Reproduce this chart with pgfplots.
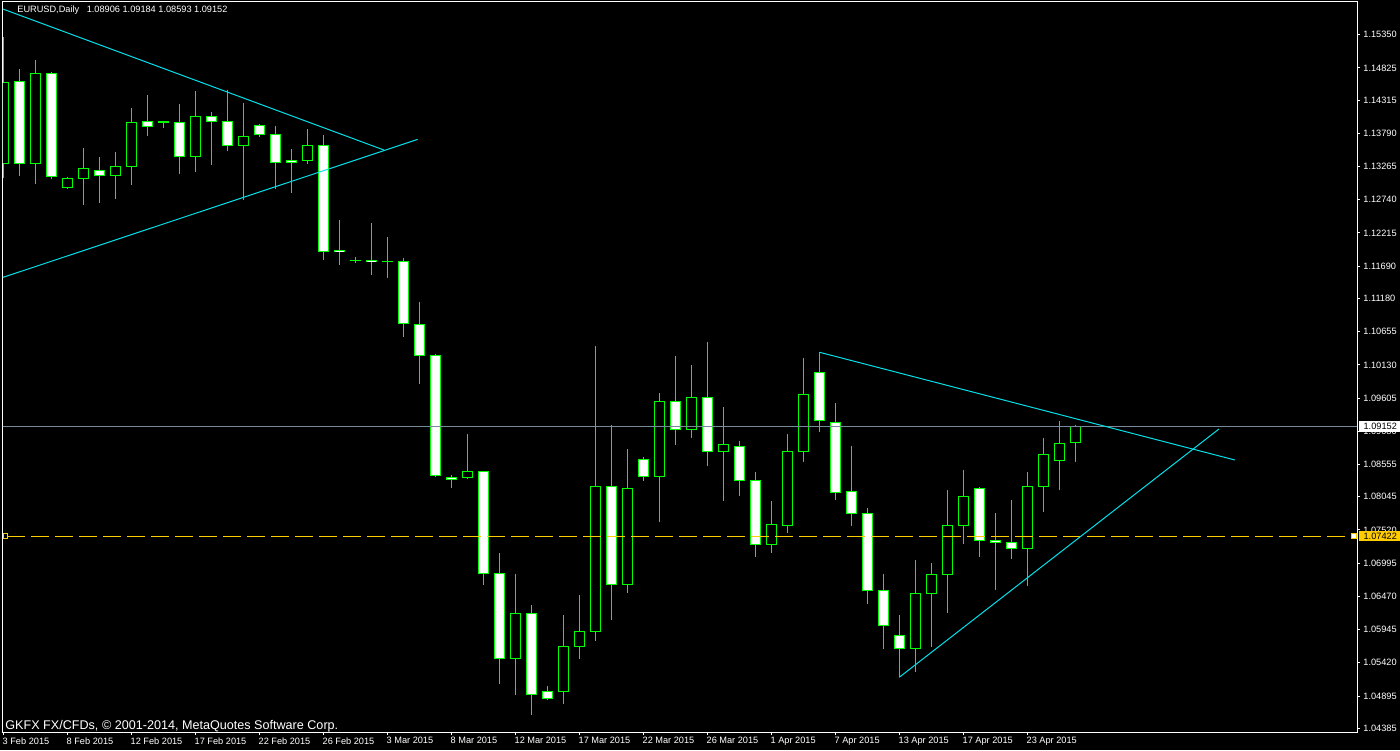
\documentclass[border=0pt]{standalone}
\usepackage{pgfplots}
\pgfplotsset{compat=1.18}
\usepackage{pgfplotstable}
\usepackage{fontspec}
\setmainfont{Liberation Sans}
\definecolor{lime}{RGB}{0,255,0}
\definecolor{trend}{RGB}{0,225,235}
\definecolor{pline}{RGB}{119,136,153}
\definecolor{gold}{RGB}{255,204,0}
\newcommand\tickfont{\fontsize{4.6pt}{5pt}\selectfont}

% bullish candles (close > open): k O H L C
\pgfplotstableread{
k O H L C
0 1.13317 1.15314 1.13089 1.14597
2 1.13317 1.14950 1.12994 1.14740
4 1.12937 1.13096 1.12915 1.13080
5 1.13080 1.13559 1.12658 1.13227
7 1.13121 1.13496 1.12752 1.13269
8 1.13263 1.14191 1.12974 1.13965
12 1.13421 1.14460 1.13184 1.14060
15 1.13595 1.14270 1.12741 1.13744
19 1.13364 1.13859 1.13311 1.13601
29 1.08353 1.09037 1.08330 1.08447
32 1.05491 1.06824 1.04915 1.06202
35 1.04969 1.06176 1.04773 1.05681
36 1.05681 1.06492 1.05485 1.05918
37 1.05918 1.10428 1.05769 1.08210
39 1.06661 1.08800 1.06528 1.08179
41 1.08368 1.09685 1.07651 1.09554
43 1.09111 1.10128 1.08979 1.09617
45 1.08764 1.09464 1.07983 1.08874
48 1.07293 1.07978 1.07160 1.07609
49 1.07594 1.09037 1.07477 1.08764
50 1.08764 1.10239 1.08599 1.09665
57 1.05649 1.07045 1.05279 1.06519
58 1.06519 1.06998 1.05674 1.06819
59 1.06819 1.08152 1.06212 1.07594
60 1.07594 1.08468 1.07303 1.08052
64 1.07230 1.08436 1.06639 1.08210
65 1.08210 1.08974 1.07809 1.08716
66 1.08621 1.09243 1.08156 1.08890
67 1.08906 1.09184 1.08593 1.09152
}\bull

% bearish candles (close < open): k O H L C
\pgfplotstableread{
k O H L C
1 1.14613 1.14808 1.13121 1.13317
3 1.14740 1.14756 1.13073 1.13111
6 1.13206 1.13416 1.12689 1.13121
9 1.13981 1.14397 1.13748 1.13896
10 1.13975 1.13981 1.13880 1.13962
11 1.13965 1.14254 1.13152 1.13421
13 1.14060 1.14128 1.13295 1.13981
14 1.13981 1.14476 1.13516 1.13601
16 1.13918 1.13938 1.13737 1.13775
17 1.13775 1.13907 1.12915 1.13333
18 1.13364 1.13543 1.12852 1.13333
20 1.13601 1.13764 1.11793 1.11926
21 1.11946 1.12420 1.11714 1.11922
22 1.11785 1.11831 1.11745 1.11781
23 1.11788 1.12373 1.11556 1.11764
24 1.11770 1.12152 1.11508 1.11767
25 1.11768 1.11820 1.10575 1.10787
26 1.10771 1.11124 1.09832 1.10281
27 1.10281 1.10302 1.08362 1.08384
28 1.08353 1.08384 1.08188 1.08321
30 1.08447 1.08452 1.06654 1.06835
31 1.06835 1.07156 1.05089 1.05491
33 1.06202 1.06334 1.04599 1.04922
34 1.04969 1.05053 1.04827 1.04859
38 1.08210 1.09179 1.06101 1.06661
40 1.08637 1.08673 1.08299 1.08368
42 1.09554 1.10270 1.08868 1.09111
44 1.09617 1.10492 1.08536 1.08764
46 1.08843 1.08926 1.08062 1.08305
47 1.08305 1.08436 1.07097 1.07293
51 1.10013 1.10329 1.09061 1.09254
52 1.09222 1.09527 1.07998 1.08115
53 1.08131 1.08847 1.07587 1.07783
54 1.07783 1.07867 1.06354 1.06566
55 1.06566 1.06824 1.05643 1.06013
56 1.05855 1.06176 1.05191 1.05649
61 1.08179 1.08194 1.07097 1.07357
62 1.07357 1.07788 1.06575 1.07325
63 1.07325 1.07994 1.07056 1.07230
}\bear

\begin{document}
\begin{tikzpicture}
\fill[black] (0,0) rectangle (700pt,375pt);
\begin{axis}[
  at={(1.5pt,9pt)}, anchor=south west,
  scale only axis, width=677pt, height=365pt,
  xmin=-0.019, xmax=84.61, ymin=1.04326, ymax=1.15867,
  axis line style={white, line width=0.5pt},
  tick style={white, line width=0.5pt},
  tick align=outside, major tick length=1.5pt,
  xtick pos=bottom, ytick pos=right, yticklabel pos=right,
  xtick={0,4,...,64},
  xticklabels={3 Feb 2015, 8 Feb 2015, 12 Feb 2015, 17 Feb 2015, 22 Feb 2015, 26 Feb 2015, 3 Mar 2015, 8 Mar 2015, 12 Mar 2015, 17 Mar 2015, 22 Mar 2015, 26 Mar 2015, 1 Apr 2015, 7 Apr 2015, 13 Apr 2015, 17 Apr 2015, 23 Apr 2015},
  ytick={1.15350,1.14825,1.14315,1.13790,1.13265,1.12740,1.12215,1.11690,1.11180,1.10655,1.10130,1.09605,1.09080,1.08555,1.08045,1.07520,1.06995,1.06470,1.05945,1.05420,1.04895,1.04385},
  yticklabels={1.15350,1.14825,1.14315,1.13790,1.13265,1.12740,1.12215,1.11690,1.11180,1.10655,1.10130,1.09605,1.09080,1.08555,1.08045,1.07520,1.06995,1.06470,1.05945,1.05420,1.04895,1.04385},
  scaled y ticks=false,
  ticklabel style={text=white, font=\tickfont, inner sep=0pt},
  xticklabel style={anchor=north west, xshift=-0.5pt, yshift=-1pt},
  yticklabel style={anchor=west, xshift=1.5pt},
  after end axis/.code={
    \node[anchor=west, fill=white, text=black, font=\tickfont, inner xsep=2.1pt, inner ysep=0pt, minimum height=5.5pt, xshift=1pt] at (axis cs:84.61,1.09152) {1.09152};
    \node[anchor=west, fill=gold, text=black, font=\tickfont, inner xsep=2.1pt, inner ysep=0pt, minimum height=5pt, xshift=1pt] at (axis cs:84.61,1.07422) {1.07422};
  },
]
% wicks
\addplot[draw=none, mark=none, error bars/.cd, y dir=plus, y explicit, error mark=none, error bar style={draw=lime, line width=0.5pt}]
  table[x=k, y=L, y error plus expr={\thisrow{H}-\thisrow{L}}] {\bull};
\addplot[draw=none, mark=none, error bars/.cd, y dir=plus, y explicit, error mark=none, error bar style={draw=lime, line width=0.5pt}]
  table[x=k, y=L, y error plus expr={\thisrow{H}-\thisrow{L}}] {\bear};
% body outlines
\addplot[draw=none, mark=none, error bars/.cd, y dir=plus, y explicit, error mark=none, error bar style={draw=lime, line width=5.5pt}]
  table[x=k, y expr={\thisrow{O}-0.00008}, y error plus expr={\thisrow{C}-\thisrow{O}+0.00016}] {\bull};
\addplot[draw=none, mark=none, error bars/.cd, y dir=plus, y explicit, error mark=none, error bar style={draw=lime, line width=5.5pt}]
  table[x=k, y expr={\thisrow{C}-0.00008}, y error plus expr={\thisrow{O}-\thisrow{C}+0.00016}] {\bear};
% body fills
\addplot[draw=none, mark=none, error bars/.cd, y dir=plus, y explicit, error mark=none, error bar style={draw=black, line width=4.5pt}]
  table[x=k, y expr={\thisrow{O}+0.00008}, y error plus expr={max(\thisrow{C}-\thisrow{O}-0.00016,0)}] {\bull};
\addplot[draw=none, mark=none, error bars/.cd, y dir=plus, y explicit, error mark=none, error bar style={draw=white, line width=4.5pt}]
  table[x=k, y expr={\thisrow{C}+0.00008}, y error plus expr={max(\thisrow{O}-\thisrow{C}-0.00016,0)}] {\bear};
% price lines
\addplot[pline, line width=0.5pt] coordinates {(-1,1.09152) (90,1.09152)};
\addplot[gold, line width=0.5pt, dash pattern=on 9pt off 3pt] coordinates {(0.23,1.07422) (84.3,1.07422)};
\addplot[only marks, mark=square*, mark size=1.1pt, mark options={draw=gold, fill=black, line width=0.5pt}] coordinates {(0.125,1.07422)};
\addplot[only marks, mark=square*, mark size=1.1pt, mark options={draw=gold, fill=white, line width=0.5pt}] coordinates {(84.42,1.07422)};
% trend lines
\addplot[trend, line width=0.5pt] coordinates {(-0.1,1.15763) (23.8,1.13526)};
\addplot[trend, line width=0.5pt] coordinates {(-0.1,1.11507) (25.9,1.13695)};
\addplot[trend, line width=0.5pt] coordinates {(51.02,1.10329) (76.98,1.08626)};
\addplot[trend, line width=0.5pt] coordinates {(56.0,1.05191) (75.98,1.09116)};
\end{axis}
\node[anchor=west, inner sep=0pt, text=white, font=\tickfont] at (8.5pt,369.75pt) {EURUSD,Daily\hspace{2.5pt} 1.08906 1.09184 1.08593 1.09152};
\node[anchor=west, inner sep=0pt, text=white, font=\fontsize{6.3pt}{7pt}\selectfont] at (2.5pt,12pt) {GKFX FX/CFDs, \textcopyright{} 2001-2014, MetaQuotes Software Corp.};
\pgfresetboundingbox
\path[use as bounding box] (0,0) rectangle (700pt,375pt);
\end{tikzpicture}
\end{document}
